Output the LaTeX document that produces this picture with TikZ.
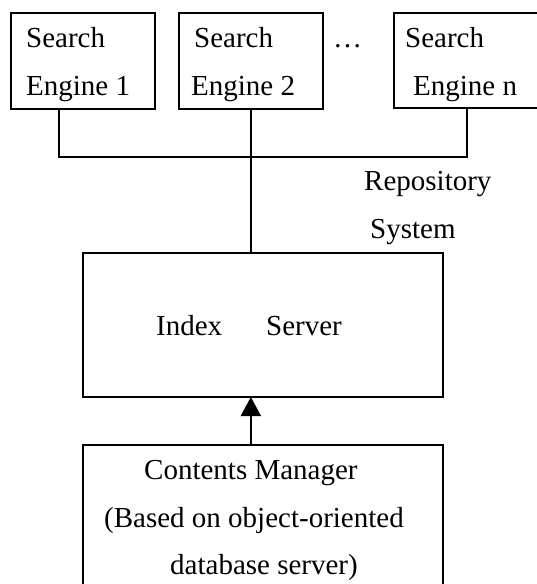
\documentclass[tikz,border=0pt]{standalone}
\usepackage{fontspec}
\setmainfont{Liberation Serif}
\usetikzlibrary{arrows.meta}
\begin{document}
\begin{tikzpicture}[x=1pt,y=-1pt,
  box/.style={draw,line width=1.9pt,rectangle,inner sep=0pt,outer sep=0pt,anchor=north west},
  txt/.style={anchor=base west,inner sep=0pt,font=\fontsize{29}{48}\selectfont},
  wire/.style={line width=1.9pt}]
\useasboundingbox (0,0) rectangle (537,584);
\clip (0,0) rectangle (537,584);
% boxes
\node[box,minimum width=144.3pt,minimum height=96pt] (se1) at (10.7,13) {};
\node[box,minimum width=144.3pt,minimum height=96pt] (se2) at (178.7,13) {};
\node[box,minimum width=146pt,minimum height=95pt] (se3) at (394,13) {};
\node[box,minimum width=360.3pt,minimum height=144pt] (idx) at (82.7,253) {};
\node[box,minimum width=360.3pt,minimum height=160pt] (cm) at (82.7,445) {};
% texts
\node[txt] (t1a) at (26,47) {Search};
\node[txt] (t1b) at (26,95) {Engine 1};
\node[txt] (t2a) at (194,47) {Search};
\node[txt] (t2b) at (191,95) {Engine 2};
\node[txt] (dots) at (333,47) {\dots};
\node[txt] (t3a) at (405,47) {Search};
\node[txt] (t3b) at (413,95) {Engine n};
\node[txt] (rep) at (364,190) {Repository};
\node[txt] (sys) at (370,238) {System};
\node[txt] (ix) at (156,335) {Index};
\node[txt] (sv) at (266,335) {Server};
\node[txt] (c1) at (144,479) {Contents Manager};
\node[txt] (c2) at (104,527) {(Based on object-oriented};
\node[txt] (c3) at (170,574) {database server)};
% connectors
\coordinate (j1) at (59,157);
\draw[wire] (se1.south -| j1) -- (j1) -- (j1 -| se3.south) -- (se3.south);
\draw[wire] (se2.south) -- (se2.south |- idx.north);
\draw[wire,-{Triangle[length=19pt,width=20pt]}] (cm.north -| se2.south) -- (idx.south -| se2.south);
\end{tikzpicture}
\end{document}
